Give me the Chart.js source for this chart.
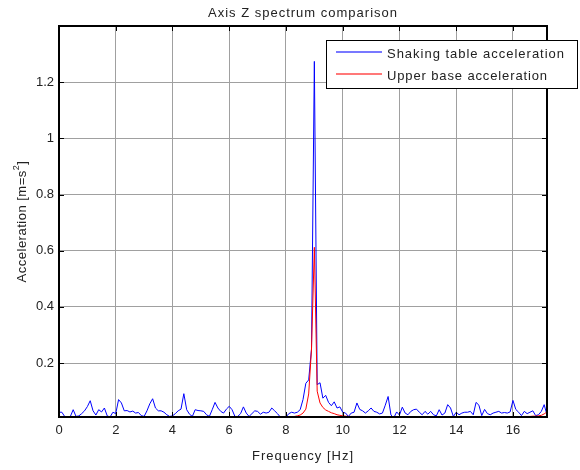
<!DOCTYPE html>
<html>
<head>
<meta charset="utf-8">
<title>Axis Z spectrum comparison</title>
<script src="https://cdn.jsdelivr.net/npm/chart.js@4.4.1/dist/chart.umd.min.js"></script>
<style>
	html, body { margin: 0; padding: 0; background: #fff; }
	#wrap { width: 580px; height: 470px; }
</style>
</head>
<body>
<div id="wrap"><canvas id="spectrum" width="580" height="470"></canvas></div>
<script>
"use strict";

// frequency bins [Hz]
const freqHz = [
	0.0, 0.1, 0.2, 0.3, 0.4, 0.5, 0.6, 0.7, 0.8, 0.9,
	1.0, 1.1, 1.2, 1.3, 1.4, 1.5, 1.6, 1.7, 1.8, 1.9,
	2.0, 2.1, 2.2, 2.3, 2.4, 2.5, 2.6, 2.7, 2.8, 2.9,
	3.0, 3.1, 3.2, 3.3, 3.4, 3.5, 3.6, 3.7, 3.8, 3.9,
	4.0, 4.1, 4.2, 4.3, 4.4, 4.5, 4.6, 4.7, 4.8, 4.9,
	5.0, 5.1, 5.2, 5.3, 5.4, 5.5, 5.6, 5.7, 5.8, 5.9,
	6.0, 6.1, 6.2, 6.3, 6.4, 6.5, 6.6, 6.7, 6.8, 6.9,
	7.0, 7.1, 7.2, 7.3, 7.4, 7.5, 7.6, 7.7, 7.8, 7.9,
	8.0, 8.1, 8.2, 8.3, 8.4, 8.5, 8.6, 8.7, 8.8, 8.9,
	9.0, 9.1, 9.2, 9.3, 9.4, 9.5, 9.6, 9.7, 9.8, 9.9,
	10.0, 10.1, 10.2, 10.3, 10.4, 10.5, 10.6, 10.7, 10.8, 10.9,
	11.0, 11.1, 11.2, 11.3, 11.4, 11.5, 11.6, 11.7, 11.8, 11.9,
	12.0, 12.1, 12.2, 12.3, 12.4, 12.5, 12.6, 12.7, 12.8, 12.9,
	13.0, 13.1, 13.2, 13.3, 13.4, 13.5, 13.6, 13.7, 13.8, 13.9,
	14.0, 14.1, 14.2, 14.3, 14.4, 14.5, 14.6, 14.7, 14.8, 14.9,
	15.0, 15.1, 15.2, 15.3, 15.4, 15.5, 15.6, 15.7, 15.8, 15.9,
	16.0, 16.1, 16.2, 16.3, 16.4, 16.5, 16.6, 16.7, 16.8, 16.9,
	17.0, 17.1, 17.2
];

// shaking table acceleration spectrum [m/s^2]
const shakingTable = [
	0.025, 0.025, 0.010, 0.008, 0.010, 0.034, 0.010, 0.012, 0.020, 0.030,
	0.045, 0.066, 0.030, 0.015, 0.034, 0.026, 0.040, 0.012, 0.008, 0.025,
	0.020, 0.070, 0.058, 0.030, 0.031, 0.026, 0.029, 0.022, 0.024, 0.013,
	0.010, 0.030, 0.055, 0.073, 0.040, 0.030, 0.030, 0.025, 0.016, 0.010,
	0.012, 0.020, 0.030, 0.036, 0.091, 0.034, 0.018, 0.010, 0.034, 0.031,
	0.030, 0.028, 0.016, 0.010, 0.034, 0.060, 0.040, 0.028, 0.022, 0.036,
	0.046, 0.034, 0.010, 0.010, 0.020, 0.044, 0.022, 0.010, 0.020, 0.030,
	0.028, 0.018, 0.025, 0.022, 0.025, 0.040, 0.030, 0.020, 0.008, 0.006,
	0.008, 0.020, 0.025, 0.022, 0.025, 0.034, 0.070, 0.128, 0.140, 0.250,
	1.274, 0.123, 0.130, 0.075, 0.085, 0.060, 0.048, 0.062, 0.040, 0.044,
	0.025, 0.022, 0.010, 0.022, 0.025, 0.058, 0.035, 0.030, 0.022, 0.030,
	0.040, 0.028, 0.025, 0.019, 0.022, 0.050, 0.081, 0.015, 0.005, 0.026,
	0.015, 0.043, 0.022, 0.016, 0.028, 0.034, 0.036, 0.025, 0.016, 0.028,
	0.018, 0.028, 0.016, 0.012, 0.034, 0.015, 0.022, 0.052, 0.040, 0.010,
	0.025, 0.016, 0.022, 0.025, 0.025, 0.028, 0.016, 0.060, 0.050, 0.013,
	0.035, 0.020, 0.016, 0.022, 0.025, 0.028, 0.022, 0.024, 0.022, 0.026,
	0.067, 0.035, 0.025, 0.013, 0.028, 0.020, 0.025, 0.030, 0.013, 0.016,
	0.028, 0.052, 0.015
];

// upper base acceleration spectrum [m/s^2]
const upperBase = [
	0.004, 0.004, 0.004, 0.004, 0.004, 0.004, 0.004, 0.004, 0.004, 0.004,
	0.004, 0.004, 0.004, 0.004, 0.004, 0.004, 0.004, 0.004, 0.004, 0.004,
	0.004, 0.004, 0.004, 0.004, 0.004, 0.004, 0.004, 0.004, 0.004, 0.004,
	0.004, 0.004, 0.004, 0.004, 0.004, 0.004, 0.004, 0.004, 0.004, 0.004,
	0.004, 0.004, 0.004, 0.004, 0.004, 0.004, 0.004, 0.004, 0.004, 0.004,
	0.004, 0.004, 0.004, 0.004, 0.004, 0.004, 0.004, 0.004, 0.004, 0.004,
	0.004, 0.004, 0.005, 0.005, 0.006, 0.006, 0.007, 0.008, 0.009, 0.009,
	0.009, 0.009, 0.008, 0.008, 0.007, 0.006, 0.006, 0.006, 0.007, 0.007,
	0.008, 0.008, 0.009, 0.010, 0.012, 0.015, 0.022, 0.036, 0.090, 0.250,
	0.612, 0.100, 0.058, 0.042, 0.033, 0.028, 0.023, 0.020, 0.016, 0.014,
	0.012, 0.011, 0.010, 0.010, 0.010, 0.010, 0.010, 0.010, 0.009, 0.009,
	0.009, 0.009, 0.009, 0.008, 0.008, 0.008, 0.008, 0.008, 0.008, 0.008,
	0.007, 0.007, 0.007, 0.007, 0.007, 0.007, 0.007, 0.007, 0.007, 0.007,
	0.007, 0.007, 0.007, 0.007, 0.007, 0.007, 0.007, 0.007, 0.007, 0.007,
	0.008, 0.008, 0.008, 0.008, 0.008, 0.008, 0.008, 0.008, 0.008, 0.008,
	0.009, 0.009, 0.009, 0.009, 0.009, 0.009, 0.009, 0.009, 0.009, 0.009,
	0.009, 0.009, 0.009, 0.009, 0.010, 0.010, 0.010, 0.011, 0.011, 0.012,
	0.014, 0.019, 0.026
];

const xTicks = [0, 2, 4, 6, 8, 10, 12, 14, 16];
const yTicks = [0.2, 0.4, 0.6, 0.8, 1, 1.2];

const FONT = '"Liberation Sans", Arial, Helvetica, sans-serif';
const TEXT = '#222';

function points(ys) {
	return ys.map(function (y, i) { return { x: freqHz[i], y: y }; });
}

// text stretched a little, MATLAB spaces its letters out
function spacedText(ctx, str, x, y, width, align) {
	ctx.letterSpacing = '0px';
	const w = ctx.measureText(str).width;
	const sp = Math.max(0, (width - w) / str.length);
	ctx.letterSpacing = sp.toFixed(2) + 'px';
	let x0 = x;
	if (align === 'center') { x0 = x - width / 2; }
	ctx.textAlign = 'left';
	ctx.fillText(str, x0, y);
	ctx.letterSpacing = '0px';
}

const matlabAxes = {
	id: 'matlabAxes',
	afterDraw: function (chart) {
		const ctx = chart.ctx;
		const a = chart.chartArea;
		const xs = chart.scales.x;
		const ys = chart.scales.y;
		ctx.save();

		// inward ticks on all four sides
		ctx.strokeStyle = '#000';
		ctx.lineWidth = 1;
		ctx.beginPath();
		xTicks.forEach(function (v) {
			const px = Math.round(xs.getPixelForValue(v)) + 0.5;
			ctx.moveTo(px, a.bottom); ctx.lineTo(px, a.bottom - 5);
			ctx.moveTo(px, a.top); ctx.lineTo(px, a.top + 5);
		});
		yTicks.forEach(function (v) {
			const py = Math.round(ys.getPixelForValue(v)) + 0.5;
			ctx.moveTo(a.left, py); ctx.lineTo(a.left + 5, py);
			ctx.moveTo(a.right, py); ctx.lineTo(a.right - 5, py);
		});
		ctx.stroke();

		// box
		ctx.lineWidth = 2;
		ctx.strokeRect(a.left, a.top, a.right - a.left, a.bottom - a.top);

		// legend
		const lx = 326.5, ly = 40.5, lw = 251, lh = 48;
		ctx.fillStyle = '#fff';
		ctx.fillRect(lx, ly, lw, lh);
		ctx.lineWidth = 1;
		ctx.strokeStyle = '#000';
		ctx.strokeRect(lx, ly, lw, lh);
		ctx.lineWidth = 2;
		ctx.strokeStyle = '#7878ff';
		ctx.beginPath(); ctx.moveTo(336, 52); ctx.lineTo(382, 52); ctx.stroke();
		ctx.strokeStyle = '#ff7878';
		ctx.beginPath(); ctx.moveTo(336, 74); ctx.lineTo(382, 74); ctx.stroke();

		ctx.fillStyle = TEXT;
		ctx.font = '13px ' + FONT;
		ctx.textBaseline = 'middle';
		spacedText(ctx, chart.data.datasets[1].label, 387, 54, 178, 'left');
		spacedText(ctx, chart.data.datasets[0].label, 387, 76, 161, 'left');

		// title and axis labels
		const cx = (a.left + a.right) / 2;
		spacedText(ctx, 'Axis Z spectrum comparison', cx, 13, 190, 'center');
		spacedText(ctx, 'Frequency [Hz]', cx, 456, 102, 'center');

		ctx.translate(22, (a.top + a.bottom) / 2);
		ctx.rotate(-Math.PI / 2);
		const lab = 'Acceleration [m=s';
		ctx.letterSpacing = '0.5px';
		const w1 = ctx.measureText(lab).width;
		ctx.font = '9px ' + FONT;
		const w2 = ctx.measureText('2').width;
		ctx.font = '13px ' + FONT;
		const w3 = ctx.measureText(']').width;
		let x0 = -(w1 + w2 + w3) / 2;
		ctx.textAlign = 'left';
		ctx.fillText(lab, x0, 0);
		ctx.font = '9px ' + FONT;
		ctx.fillText('2', x0 + w1, -5);
		ctx.font = '13px ' + FONT;
		ctx.fillText(']', x0 + w1 + w2, 0);
		ctx.restore();
	}
};

const ctx = document.getElementById('spectrum');
new Chart(ctx, {
	type: 'line',
	data: {
		datasets: [
			{
				label: 'Upper base acceleration',
				data: points(upperBase),
				borderColor: '#ff0000', borderWidth: 1, pointRadius: 0, tension: 0, fill: false,
				order: 0
			},
			{
				label: 'Shaking table acceleration',
				data: points(shakingTable),
				borderColor: '#0000ff', borderWidth: 1, pointRadius: 0, tension: 0, fill: false,
				order: 1
			}
		]
	},
	options: {
		responsive: false,
		animation: false,
		layout: { padding: { top: 26, right: 33, left: 0, bottom: 0 } },
		plugins: { legend: { display: false }, tooltip: { enabled: false } },
		scales: {
			x: {
				type: 'linear', min: 0, max: 17.2,
				afterBuildTicks: function (s) { s.ticks = xTicks.map(function (v) { return { value: v }; }); },
				afterFit: function (s) { s.height = 53; },
				ticks: {
					font: { family: FONT, size: 13 }, color: TEXT, padding: 6,
					maxRotation: 0, autoSkip: false,
					callback: function (v) { return String(v); }
				},
				grid: { color: '#a0a0a0', lineWidth: 1, drawTicks: false },
				border: { display: false }
			},
			y: {
				min: 0.008, max: 1.4,
				afterBuildTicks: function (s) { s.ticks = yTicks.map(function (v) { return { value: v }; }); },
				afterFit: function (s) { s.width = 59; },
				ticks: {
					font: { family: FONT, size: 13 }, color: TEXT, padding: 5,
					autoSkip: false,
					callback: function (v) { return String(v); }
				},
				grid: { color: '#a0a0a0', lineWidth: 1, drawTicks: false },
				border: { display: false }
			}
		}
	},
	plugins: [matlabAxes]
});
</script>
</body>
</html>
